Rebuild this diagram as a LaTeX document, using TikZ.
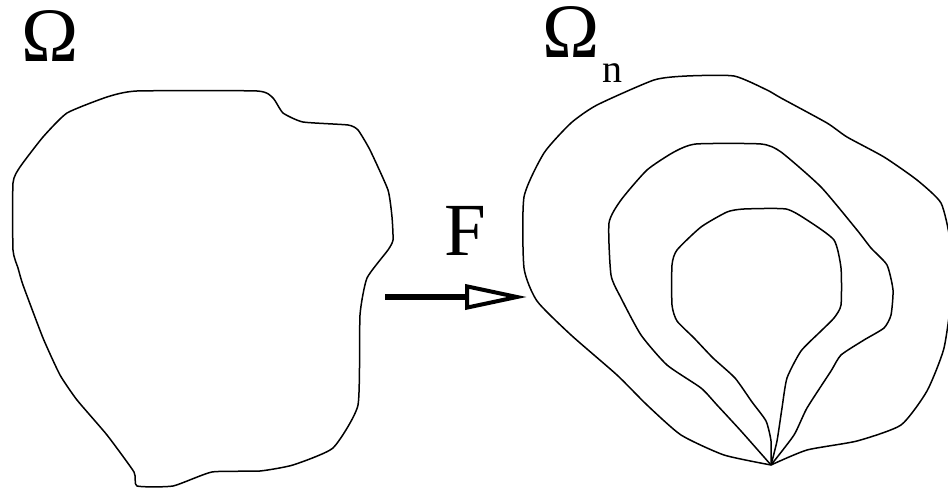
\documentclass[tikz,border=0pt]{standalone}
\usepackage{fontspec}
\setmainfont{Liberation Serif}
\usetikzlibrary{arrows.meta}
\begin{document}
\begin{tikzpicture}[x=1pt,y=-1pt,
 rim/.style={line width=1.5pt,line join=round},
 sym/.style={inner sep=0pt,anchor=base west}]
\useasboundingbox (0,0) rectangle (948,497);
% the domain Omega
\draw[rim] plot[smooth cycle,tension=0.3] coordinates{(137,91) (257,91) (273,98) (283,113) (303,122) (348,125) (358,130) (370,150) (388,190) (392,217) (393,240) (388,250) (367,278) (360,315) (358,405) (333,448) (293,465) (260,471) (212,472) (173,486) (137,486) (134,472) (107,435) (77,400) (60,375) (43,338) (23,285) (18,268) (13,250) (13,183) (20,167) (43,137) (67,113) (107,97)};
% the image Omega_n, three level curves through the tip
\coordinate (tip) at (771,465);
\draw[rim] plot[smooth,tension=0.35] coordinates{(771,465) (724,455) (681,435) (647,405) (617,375) (571,335) (537,301) (524,268) (524,197) (544,153) (571,123) (597,105) (654,80) (687,76) (734,76) (767,90) (781,98) (827,123) (847,137) (884,157) (917,180) (941,203) (950,240) (952,290) (944,348) (927,391) (901,425) (857,441) (807,450) (771,465)};
\draw[rim] plot[smooth,tension=0.35] coordinates{(771,465) (741,431) (717,405) (701,388) (667,365) (641,335) (621,298) (611,275) (609,223) (621,200) (647,170) (674,152) (696,144) (761,144) (781,152) (821,187) (857,230) (871,248) (887,265) (893,290) (891,315) (884,328) (864,340) (841,355) (831,371) (807,408) (794,435) (771,465)};
\draw[rim] plot[smooth,tension=0.35] coordinates{(771,465) (771,441) (766,421) (752,402) (735,378) (713,358) (694,338) (677,321) (672,305) (672,265) (677,250) (701,227) (727,212) (744,209) (786,209) (807,220) (834,240) (841,268) (841,305) (834,318) (821,331) (801,351) (787,378) (782,408) (777,441) (771,465)};
% labels
\node[sym,font=\fontsize{77}{80}\selectfont] (om) at (21,62) {Ω};
\node[sym,font=\fontsize{77}{80}\selectfont] (omn) at (542,58) {Ω};
\node[sym,font=\fontsize{40}{42}\selectfont] (sub) at (602,83) {n};
\node[sym,font=\fontsize{75}{78}\selectfont] (map) at (444,255) {F};
% the map F
\coordinate (fstart) at (385,297);
\coordinate (fend) at (527,297);
\draw[line width=6pt,-{Triangle[open,length=62pt,width=25pt,line width=4pt]}] (fstart) -- (fend);
\end{tikzpicture}
\end{document}
